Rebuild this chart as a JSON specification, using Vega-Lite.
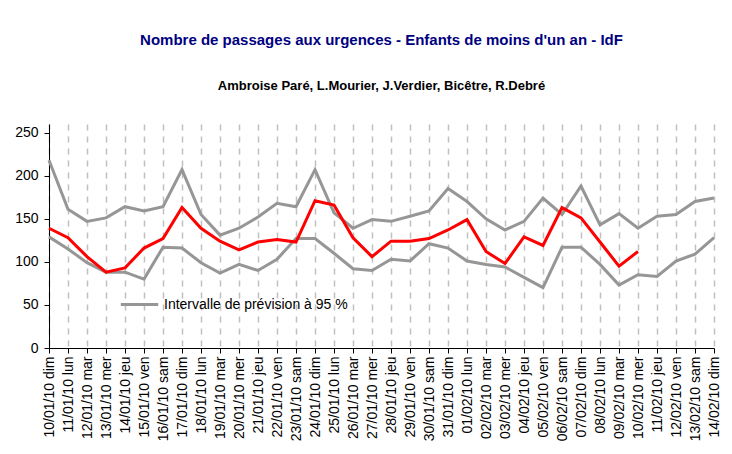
{
  "$schema": "https://vega.github.io/schema/vega-lite/v6.json",
  "width": 665,
  "height": 224,
  "autosize": {"type": "none"},
  "padding": {"left": 49, "top": 124, "right": 18, "bottom": 106},
  "background": "white",
  "title": {
    "text": "Nombre de passages aux urgences - Enfants de moins d'un an - IdF",
    "subtitle": "Ambroise Paré, L.Mourier, J.Verdier, Bicêtre, R.Debré",
    "anchor": "middle",
    "font": "Liberation Sans",
    "fontSize": 15,
    "fontWeight": "bold",
    "color": "#000080",
    "subtitleFont": "Liberation Sans",
    "subtitleFontSize": 13,
    "subtitleFontWeight": "bold",
    "subtitleColor": "#000000",
    "subtitlePadding": 32,
    "offset": 31
  },
  "config": {
    "view": {"stroke": null},
    "font": "Liberation Sans"
  },
  "data": {
    "values": [
      {"jour": "10/01/10 dim", "haut": 218, "bas": 129, "obs": 139},
      {"jour": "11/01/10 lun", "haut": 161, "bas": 115, "obs": 128},
      {"jour": "12/01/10 mar", "haut": 147, "bas": 99, "obs": 106},
      {"jour": "13/01/10 mer", "haut": 151, "bas": 88, "obs": 88},
      {"jour": "14/01/10 jeu", "haut": 164, "bas": 88, "obs": 93},
      {"jour": "15/01/10 ven", "haut": 159, "bas": 80, "obs": 116},
      {"jour": "16/01/10 sam", "haut": 164, "bas": 117, "obs": 127},
      {"jour": "17/01/10 dim", "haut": 207, "bas": 116, "obs": 163},
      {"jour": "18/01/10 lun", "haut": 155, "bas": 99, "obs": 139},
      {"jour": "19/01/10 mar", "haut": 131, "bas": 87, "obs": 124},
      {"jour": "20/01/10 mer", "haut": 139, "bas": 97, "obs": 114},
      {"jour": "21/01/10 jeu", "haut": 152, "bas": 90, "obs": 123},
      {"jour": "22/01/10 ven", "haut": 168, "bas": 103, "obs": 126},
      {"jour": "23/01/10 sam", "haut": 164, "bas": 127, "obs": 123},
      {"jour": "24/01/10 dim", "haut": 207, "bas": 127, "obs": 171},
      {"jour": "25/01/10 lun", "haut": 157, "bas": 110, "obs": 166},
      {"jour": "26/01/10 mar", "haut": 139, "bas": 92, "obs": 128},
      {"jour": "27/01/10 mer", "haut": 149, "bas": 90, "obs": 106},
      {"jour": "28/01/10 jeu", "haut": 147, "bas": 103, "obs": 124},
      {"jour": "29/01/10 ven", "haut": 153, "bas": 101, "obs": 124},
      {"jour": "30/01/10 sam", "haut": 159, "bas": 121, "obs": 127},
      {"jour": "31/01/10 dim", "haut": 185, "bas": 116, "obs": 137},
      {"jour": "01/02/10 lun", "haut": 170, "bas": 101, "obs": 149},
      {"jour": "02/02/10 mar", "haut": 150, "bas": 97, "obs": 112},
      {"jour": "03/02/10 mer", "haut": 137, "bas": 94, "obs": 98},
      {"jour": "04/02/10 jeu", "haut": 147, "bas": 82, "obs": 129},
      {"jour": "05/02/10 ven", "haut": 174, "bas": 70, "obs": 119},
      {"jour": "06/02/10 sam", "haut": 155, "bas": 117, "obs": 163},
      {"jour": "07/02/10 dim", "haut": 188, "bas": 117, "obs": 151},
      {"jour": "08/02/10 lun", "haut": 143, "bas": 97, "obs": 123},
      {"jour": "09/02/10 mar", "haut": 156, "bas": 73, "obs": 95},
      {"jour": "10/02/10 mer", "haut": 139, "bas": 85, "obs": 112},
      {"jour": "11/02/10 jeu", "haut": 153, "bas": 83, "obs": null},
      {"jour": "12/02/10 ven", "haut": 155, "bas": 101, "obs": null},
      {"jour": "13/02/10 sam", "haut": 170, "bas": 109, "obs": null},
      {"jour": "14/02/10 dim", "haut": 174, "bas": 128, "obs": null}
    ]
  },
  "encoding": {
    "x": {
      "field": "jour",
      "type": "ordinal",
      "sort": null,
      "scale": {"type": "point", "padding": 0},
      "title": null,
      "axis": {
        "labelAngle": -90,
        "labelFontSize": 14,
        "labelColor": "#000000",
        "labelPadding": 3,
        "tickSize": 5,
        "tickColor": "#000000",
        "domainColor": "#000000",
        "grid": true,
        "gridColor": "#c0c0c0",
        "gridDash": [6, 6],
        "gridWidth": 1.5
      }
    }
  },
  "layer": [
    {
      "mark": {"type": "line", "strokeWidth": 3},
      "encoding": {
        "y": {
          "field": "haut",
          "type": "quantitative",
          "scale": {"domain": [0, 250]},
          "title": null,
          "axis": {
            "values": [0, 50, 100, 150, 200, 250],
            "grid": false,
            "labelFontSize": 14,
            "labelColor": "#000000",
            "labelPadding": 6,
            "tickSize": 5,
            "tickColor": "#000000",
            "domainColor": "#000000"
          }
        },
        "color": {
          "datum": "Intervalle de prévision à 95 %",
          "scale": {"range": ["#969696"]},
          "legend": {
            "title": null,
            "orient": "none",
            "legendX": 70,
            "legendY": 160,
            "symbolType": "stroke",
            "symbolSize": 1400,
            "symbolStrokeWidth": 3,
            "labelFontSize": 14,
            "labelColor": "#000000",
            "labelLimit": 400
          }
        }
      }
    },
    {
      "mark": {"type": "line", "strokeWidth": 3},
      "encoding": {
        "y": {"field": "bas", "type": "quantitative"},
        "color": {"datum": "Intervalle de prévision à 95 %"}
      }
    },
    {
      "mark": {"type": "line", "strokeWidth": 3, "color": "#ff0000"},
      "encoding": {
        "y": {"field": "obs", "type": "quantitative"}
      }
    }
  ]
}
